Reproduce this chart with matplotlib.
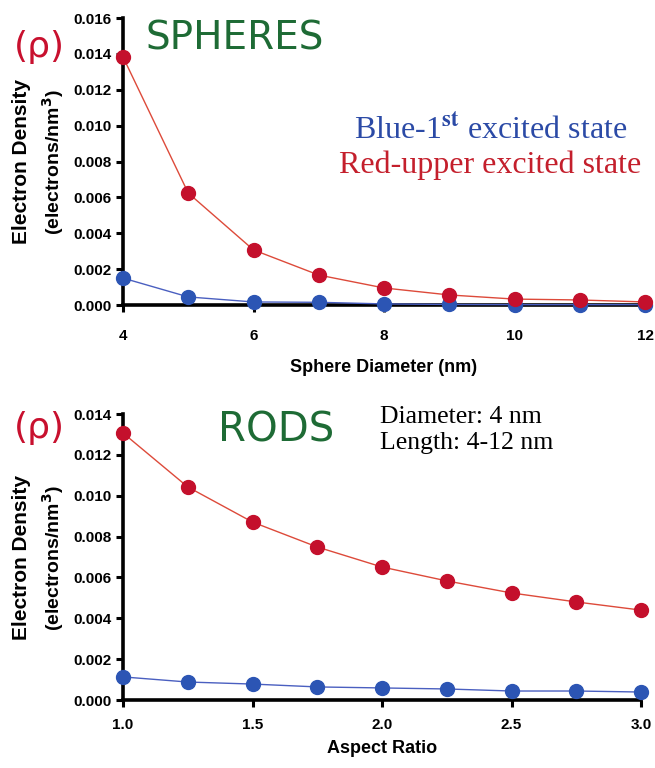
import matplotlib.pyplot as plt
from matplotlib.ticker import FormatStrFormatter

# sphere panel
diameter = [4, 5, 6, 7, 8, 9, 10, 11, 12]
sphere_red = [0.01383, 0.00624, 0.00307, 0.00167, 0.00095, 0.00056, 0.00033, 0.00028, 0.00017]
sphere_blue = [0.0015, 0.00045, 0.00017, 0.00015, 0.00006, 0.00003, 0.00002, 0.00002, 0.00002]

# rod panel
aspect = [1.0, 1.25, 1.5, 1.75, 2.0, 2.25, 2.5, 2.75, 3.0]
rod_red = [0.01307, 0.01043, 0.00871, 0.00749, 0.00651, 0.00583, 0.00524, 0.0048, 0.0044]
rod_blue = [0.00113, 0.00088, 0.00078, 0.00064, 0.00059, 0.00054, 0.00044, 0.00044, 0.00039]

RED_LINE = "#dd4a3a"
RED_MK = "#c4102c"
BLUE_LINE = "#4a5fc0"
BLUE_MK = "#2c55b4"
GREEN = "#1e6b35"

plt.rcParams["font.family"] = ["Liberation Sans", "DejaVu Sans"]
plt.rcParams["font.weight"] = "bold"

fig = plt.figure(figsize=(6.55, 7.68), dpi=100)
ax1 = fig.add_axes([123 / 655, 1 - 305 / 768, 522 / 655, 287 / 768])
ax2 = fig.add_axes([123 / 655, 1 - 700 / 768, 518 / 655, 286 / 768])


def style(ax, xlim, ylim, xticks, yticks, xfmt, xpad):
    ax.set_xlim(*xlim)
    ax.set_ylim(*ylim)
    ax.set_xticks(xticks)
    ax.set_yticks(yticks)
    ax.xaxis.set_major_formatter(FormatStrFormatter(xfmt))
    ax.yaxis.set_major_formatter(FormatStrFormatter("%.3f"))
    for s in ["top", "right"]:
        ax.spines[s].set_visible(False)
    for s in ["left", "bottom"]:
        ax.spines[s].set_linewidth(2.6)
    ax.tick_params(axis="both", width=2.2, length=5, direction="out",
                   labelsize=11)
    ax.tick_params(axis="x", pad=xpad)
    ax.tick_params(axis="y", pad=3)
    for lab in ax.get_xticklabels() + ax.get_yticklabels():
        lab.set_fontweight("bold")


def series(ax, x, red, blue):
    ax.plot(x, blue, color=BLUE_LINE, lw=1.0, marker="o", ms=10,
            mfc=BLUE_MK, mec=BLUE_MK, clip_on=False, zorder=3)
    ax.plot(x, red, color=RED_LINE, lw=1.0, marker="o", ms=10,
            mfc=RED_MK, mec=RED_MK, clip_on=False, zorder=4)


series(ax1, diameter, sphere_red, sphere_blue)
style(ax1, (4, 12), (0, 0.016), [4, 6, 8, 10, 12],
      [0.000, 0.002, 0.004, 0.006, 0.008, 0.010, 0.012, 0.014, 0.016], "%d", 12)
ax1.set_xlabel("Sphere Diameter (nm)", fontsize=13, fontweight="bold",
               labelpad=12)

series(ax2, aspect, rod_red, rod_blue)
style(ax2, (1.0, 3.0), (0, 0.014), [1.0, 1.5, 2.0, 2.5, 3.0],
      [0.000, 0.002, 0.004, 0.006, 0.008, 0.010, 0.012, 0.014], "%.1f", 8)
ax2.set_xlabel("Aspect Ratio", fontsize=13, fontweight="bold", labelpad=6)

# y labels (two lines each)
for yc in [1 - 162 / 768, 1 - 558 / 768]:
    fig.text(22 / 655, yc, "Electron Density", rotation=90, ha="center",
             va="center", fontsize=15, fontweight="bold")
    fig.text(53 / 655, yc, "(electrons/nm$^\\mathbf{3}$)", rotation=90,
             ha="center", va="center", fontsize=14, fontweight="bold")

# rho markers
for yc in [1 - 47 / 768, 1 - 428 / 768]:
    fig.text(39 / 655, yc, "(\u03c1)", color="#c8102e", fontsize=26,
             ha="center", va="center", fontweight="normal",
             family="DejaVu Sans")

# panel titles
fig.text(235 / 655, 1 - 38 / 768, "SPHERES", color=GREEN, fontsize=28,
         ha="center", va="center", fontweight="normal", family="DejaVu Sans")
fig.text(276 / 655, 1 - 430 / 768, "RODS", color=GREEN, fontsize=29,
         ha="center", va="center", fontweight="normal", family="DejaVu Sans")

# legend text
fig.text(491 / 655, 1 - 130 / 768, "Blue-1$^{\\mathrm{st}}$ excited state",
         color="#2b4aa6", fontsize=23, ha="center", va="center",
         fontweight="normal", family="Liberation Serif",
         math_fontfamily="stix")
fig.text(490 / 655, 1 - 165 / 768, "Red-upper excited state",
         color="#c41f2c", fontsize=23, ha="center", va="center",
         fontweight="normal", family="Liberation Serif")

fig.text(380 / 655, 1 - 417 / 768, "Diameter: 4 nm", color="black",
         fontsize=18.5, ha="left", va="center", fontweight="normal",
         family="Liberation Serif")
fig.text(380 / 655, 1 - 443 / 768, "Length: 4-12 nm", color="black",
         fontsize=18.5, ha="left", va="center", fontweight="normal",
         family="Liberation Serif")

fig.savefig("out.png", dpi=100)
